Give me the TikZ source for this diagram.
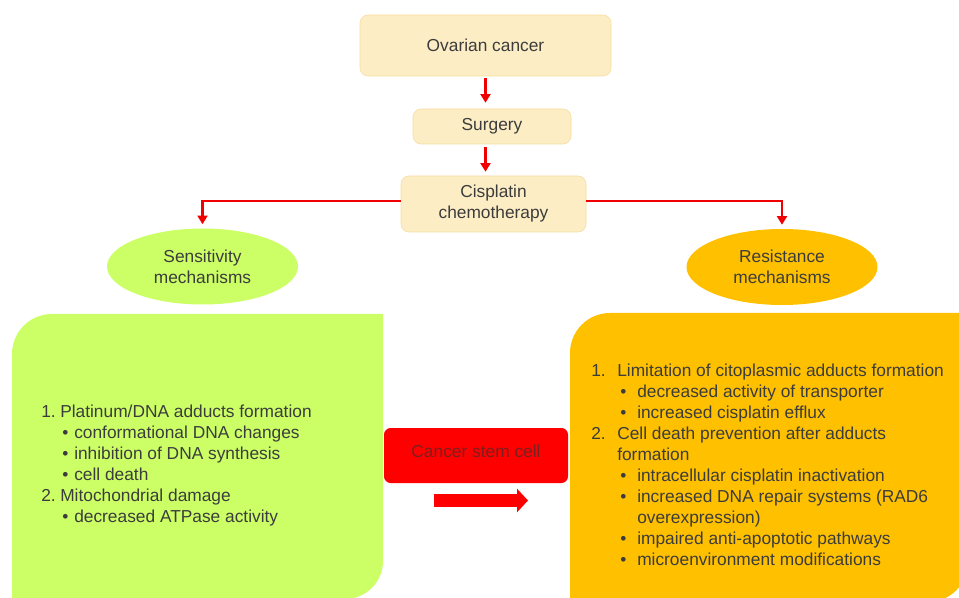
\documentclass[tikz,border=0pt]{standalone}
\usepackage{fontspec}
\setmainfont{Liberation Sans}
\usetikzlibrary{arrows.meta,shapes.geometric}
\definecolor{creamfill}{HTML}{FCEDC4}
\definecolor{creamline}{HTML}{F6DC9E}
\definecolor{sensgreen}{HTML}{CCFF66}
\definecolor{resorange}{HTML}{FFC000}
\definecolor{linkred}{HTML}{F00000}
\definecolor{inkgrey}{HTML}{3C3C3C}
\definecolor{cscink}{HTML}{7A2020}
\tikzset{
  stagebox/.style={draw=creamline, fill=creamfill, rounded corners=6pt, align=center, inner sep=0pt},
  mechoval/.style={ellipse, minimum width=143.25pt, minimum height=57pt, inner sep=0pt, align=center},
  redarrow/.style={draw=linkred, line width=1.6pt, -{Triangle[length=6.5pt,width=7.5pt]}},
  fatarrow/.style={draw=red, line width=9.75pt, -{Triangle[length=8.25pt,width=17.25pt]}},
}
\begin{document}
\begin{tikzpicture}[x=0.75pt, y=-0.75pt, font=\fontsize{13}{15.75}\selectfont, text=inkgrey]
\useasboundingbox (0,0) rectangle (959,598);
% side panels
\fill[sensgreen] (12,599) -- (12,354) arc[start angle=180, end angle=270, radius=40] -- (383,314) -- (383,561) arc[start angle=0, end angle=90, radius=38] -- cycle;
\fill[resorange] (570,602) -- (570,353) arc[start angle=180, end angle=270, radius=40] -- (968,313) -- (968,562) arc[start angle=0, end angle=90, radius=40] -- cycle;
% treatment path
\node[stagebox, minimum width=188.25pt, minimum height=45.75pt] (ovarian) at (485.5,45.5) {Ovarian cancer};
\node[stagebox, minimum width=118.5pt, minimum height=26.25pt] (surgery) at (492,126.5) {Surgery};
\node[stagebox, minimum width=138.75pt, minimum height=42pt] (cisplatin) at (493.5,204) {Cisplatin\\chemotherapy};
\node[mechoval, fill=sensgreen] (sens) at (202.5,266.5) {Sensitivity\\mechanisms};
\node[mechoval, fill=resorange] (resist) at (782,267) {Resistance\\mechanisms};
\draw[redarrow, shorten <=1.5pt, shorten >=4.5pt] (ovarian.south) -- (ovarian.south |- surgery.north);
\draw[redarrow, shorten <=2pt, shorten >=3pt] (ovarian.south |- surgery.south) -- (ovarian.south |- cisplatin.north);
\draw[redarrow, shorten >=3pt] ([yshift=2pt]cisplatin.west) -| (sens.north);
\draw[redarrow, shorten >=3pt] ([yshift=2pt]cisplatin.east) -| (resist.north);
% mechanisms
\node[anchor=west, align=left, inner sep=0pt] (senslist) at (41,466) {%
\makebox[14.25pt][l]{1.}Platinum/DNA adducts formation\\
\hspace*{15.75pt}\makebox[9pt][l]{\textbullet}conformational DNA changes\\
\hspace*{15.75pt}\makebox[9pt][l]{\textbullet}inhibition of DNA synthesis\\
\hspace*{15.75pt}\makebox[9pt][l]{\textbullet}cell death\\
\makebox[14.25pt][l]{2.}Mitochondrial damage\\
\hspace*{15.75pt}\makebox[9pt][l]{\textbullet}decreased ATPase activity};
\node[anchor=west, align=left, inner sep=0pt] (reslist) at (591,465) {%
\makebox[19.5pt][l]{1.}Limitation of citoplasmic adducts formation\\
\hspace*{21.75pt}\makebox[12.75pt][l]{\textbullet}decreased activity of transporter\\
\hspace*{21.75pt}\makebox[12.75pt][l]{\textbullet}increased cisplatin efflux\\
\makebox[19.5pt][l]{2.}Cell death prevention after adducts\\
\hspace*{19.5pt}formation\\
\hspace*{21.75pt}\makebox[12.75pt][l]{\textbullet}intracellular cisplatin inactivation\\
\hspace*{21.75pt}\makebox[12.75pt][l]{\textbullet}increased DNA repair systems (RAD6\\
\hspace*{34.5pt}overexpression)\\
\hspace*{21.75pt}\makebox[12.75pt][l]{\textbullet}impaired anti-apoptotic pathways\\
\hspace*{21.75pt}\makebox[12.75pt][l]{\textbullet}microenvironment modifications};
% cancer stem cell
\node[fill=red, rounded corners=5pt, minimum width=138pt, minimum height=41.25pt, text=cscink, text depth=6pt] (csc) at (476,455.5) {Cancer stem cell};
\coordinate (fat tail) at (434,500.5);
\coordinate (fat tip) at (528,500.5);
\draw[fatarrow] (fat tail) -- (fat tip);
\end{tikzpicture}
\end{document}
